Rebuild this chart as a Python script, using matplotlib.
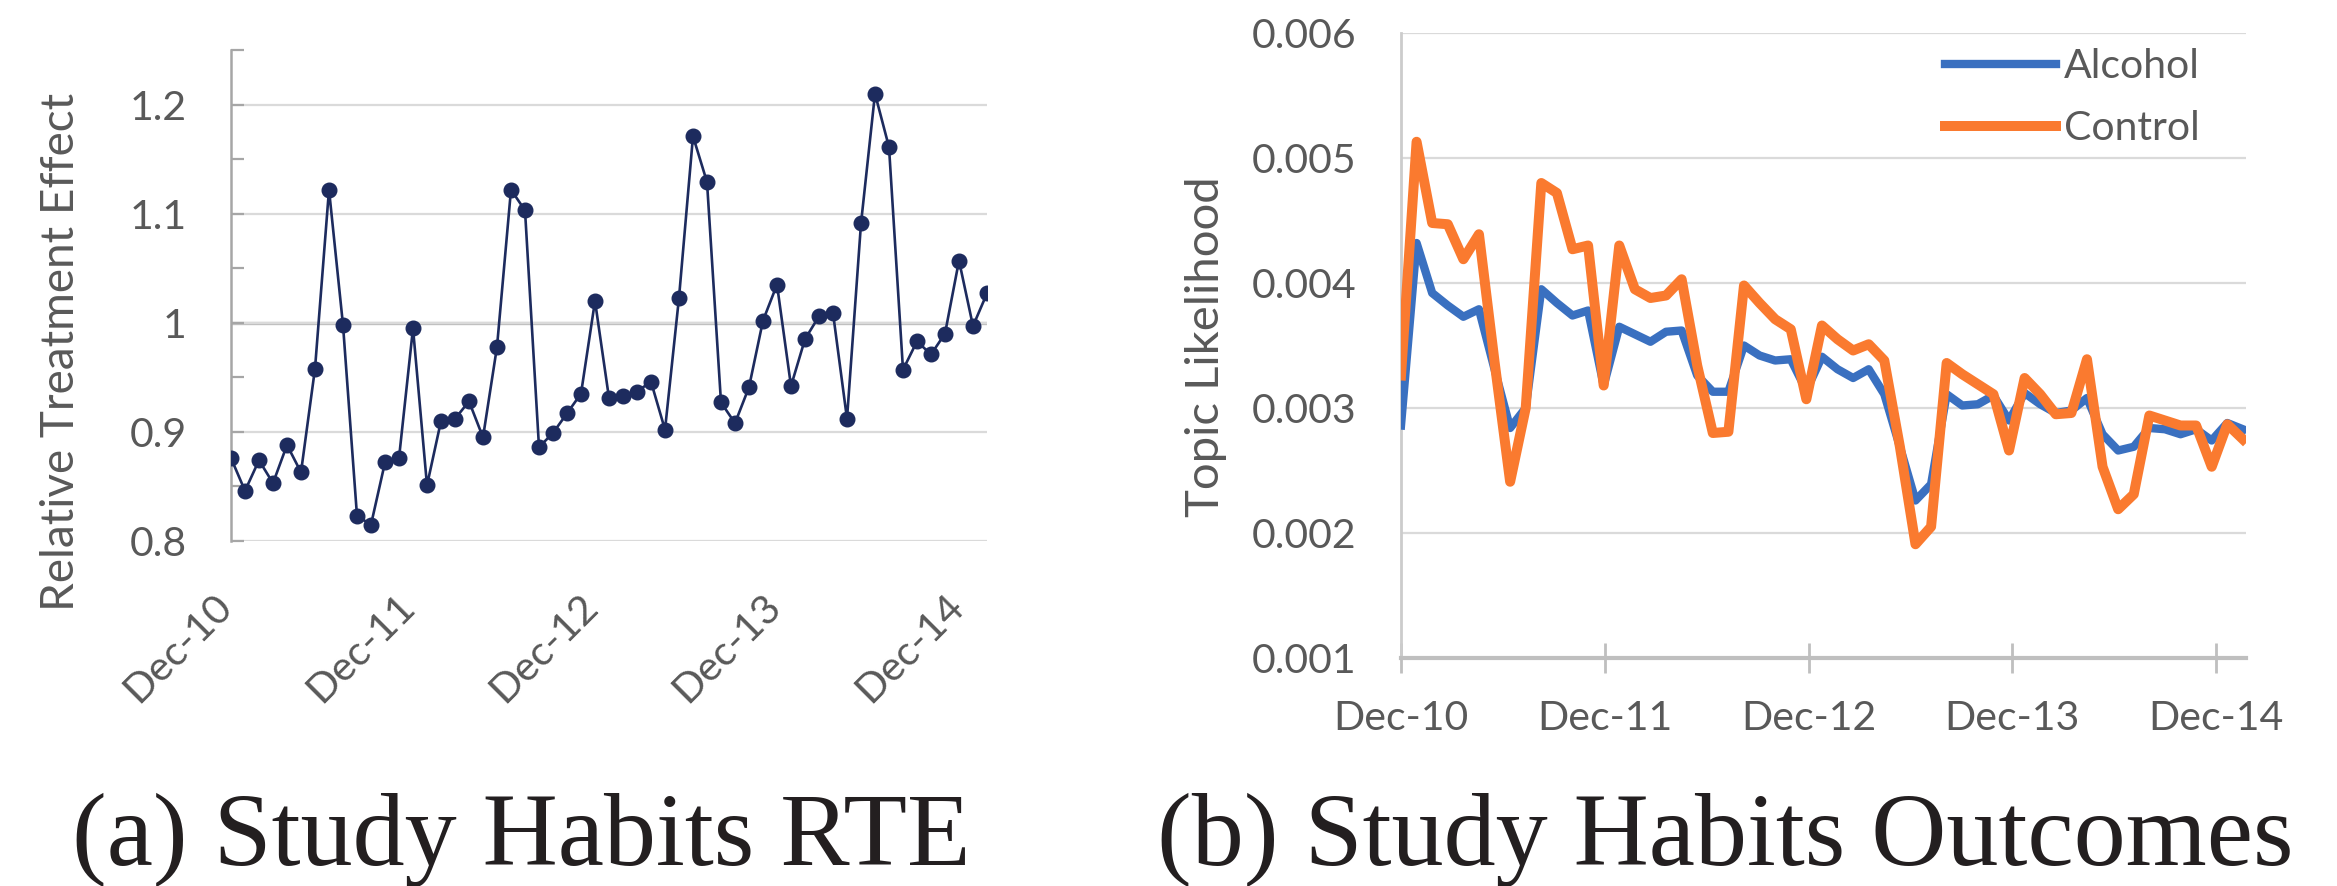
import numpy as np
import matplotlib
matplotlib.use('Agg')
import matplotlib.pyplot as plt
from matplotlib.transforms import ScaledTranslation

# ---- data (4-week periods, Dec-10 .. Feb-15) ----
rte = [0.876, 0.846, 0.874, 0.853, 0.888, 0.863, 0.958, 1.122, 0.998, 0.823,
       0.815, 0.872, 0.876, 0.995, 0.851, 0.910, 0.912, 0.928, 0.895, 0.978,
       1.122, 1.103, 0.886, 0.899, 0.917, 0.935, 1.020, 0.931, 0.933, 0.937,
       0.946, 0.902, 1.023, 1.171, 1.129, 0.927, 0.908, 0.941, 1.002, 1.035,
       0.942, 0.985, 1.006, 1.009, 0.912, 1.091, 1.210, 1.161, 0.957, 0.983,
       0.971, 0.990, 1.057, 0.997, 1.027]

alcohol = [0.00286, 0.00432, 0.00392, 0.00382, 0.00373, 0.00379, 0.00331, 0.00284, 0.00300, 0.00395,
           0.00384, 0.00374, 0.00378, 0.00318, 0.00365, 0.00359, 0.00353, 0.00361, 0.00362, 0.00326,
           0.00313, 0.00313, 0.00350, 0.00342, 0.00338, 0.00339, 0.00314, 0.00341, 0.00331, 0.00324,
           0.00331, 0.00311, 0.00269, 0.00226, 0.00239, 0.00311, 0.00302, 0.00303, 0.00310, 0.00290,
           0.00312, 0.00303, 0.00296, 0.00298, 0.00308, 0.00279, 0.00266, 0.00269, 0.00284, 0.00283,
           0.00279, 0.00283, 0.00274, 0.00288, 0.00283]

control = [0.00326, 0.00513, 0.00448, 0.00447, 0.00419, 0.00439, 0.00337, 0.00241, 0.00300, 0.00480,
           0.00472, 0.00427, 0.00430, 0.00318, 0.00430, 0.00395, 0.00388, 0.00390, 0.00403, 0.00334,
           0.00280, 0.00281, 0.00398, 0.00384, 0.00371, 0.00363, 0.00307, 0.00366, 0.00355, 0.00346,
           0.00351, 0.00338, 0.00269, 0.00191, 0.00205, 0.00336, 0.00327, 0.00319, 0.00311, 0.00266,
           0.00324, 0.00311, 0.00295, 0.00296, 0.00339, 0.00253, 0.00219, 0.00231, 0.00294, 0.00290,
           0.00286, 0.00286, 0.00253, 0.00287, 0.00275]

year_labels = ['Dec-10', 'Dec-11', 'Dec-12', 'Dec-13', 'Dec-14']
periods_per_year = 13.07

rte_major = [0.8, 0.9, 1.0, 1.1, 1.2]
rte_major_labels = ['0.8', '0.9', '1', '1.1', '1.2']
rte_minor = [0.85, 0.95, 1.05, 1.15, 1.25]
topic_ticks = [0.001, 0.002, 0.003, 0.004, 0.005, 0.006]
topic_labels = ['0.001', '0.002', '0.003', '0.004', '0.005', '0.006']

plt.rcParams['font.family'] = ['Lato', 'DejaVu Sans']

W, H = 2337, 886
fig = plt.figure(figsize=(W / 100, H / 100), dpi=100)

gray_txt = '#595959'
grid_c = '#dadada'
tick_fs = 29.5

x = np.arange(len(rte))
year_pos = [periods_per_year * k for k in range(len(year_labels))]

# ---- (a) RTE ----
ax1 = fig.add_axes([231 / W, 1 - 541 / H, 756 / W, (541 - 50) / H])
ax1.plot(x, rte, color='#1d2b5e', lw=1.9, marker='o', ms=10.5, zorder=3)
ax1.set_xlim(0, len(rte) - 1)
ax1.set_ylim(0.8, 1.25)
ax1.set_yticks(rte_major)
ax1.set_yticklabels(rte_major_labels)
ax1.set_yticks(rte_minor, minor=True)
ax1.grid(axis='y', which='major', color=grid_c, lw=1.6, zorder=0)
ax1.axhline(1.0, color='#bdbdbd', lw=2.4, zorder=1)
for s in ['top', 'right', 'bottom']:
    ax1.spines[s].set_visible(False)
ax1.spines['left'].set_color('#a6a6a6')
ax1.spines['left'].set_linewidth(1.8)
ax1.tick_params(axis='y', which='both', direction='in', length=9.5, width=1.6,
                color='#a6a6a6', labelsize=tick_fs, labelcolor=gray_txt, pad=32)
ax1.set_xticks(year_pos)
ax1.set_xticklabels(year_labels, rotation=45, ha='right')
ax1.tick_params(axis='x', length=0, labelsize=tick_fs, labelcolor=gray_txt, pad=33)
off = ScaledTranslation(8 / 100, 0, fig.dpi_scale_trans)
for lab in ax1.get_xticklabels():
    lab.set_transform(lab.get_transform() + off)
fig.text(61 / W, 1 - 352 / H, 'Relative Treatment Effect', rotation=90,
         ha='center', va='center', fontsize=33, color=gray_txt)

# ---- (b) outcomes ----
ax2 = fig.add_axes([1401 / W, 1 - 658 / H, 845 / W, (658 - 33) / H])
ax2.plot(x, alcohol, color='#3a70c0', lw=6.0, label='Alcohol', zorder=3,
         solid_joinstyle='round')
ax2.plot(x, control, color='#fa7a2f', lw=7.2, label='Control', zorder=4,
         solid_joinstyle='round')
ax2.set_xlim(0, 54.2)
ax2.set_ylim(0.001, 0.006)
ax2.set_yticks(topic_ticks)
ax2.set_yticklabels(topic_labels)
ax2.grid(axis='y', color=grid_c, lw=1.6, zorder=0)
ax2.set_axisbelow(True)
for s in ['top', 'right']:
    ax2.spines[s].set_visible(False)
ax2.spines['left'].set_color('#cccccc')
ax2.spines['left'].set_linewidth(2.0)
ax2.spines['bottom'].set_color('#bfbfbf')
ax2.spines['bottom'].set_linewidth(3.0)
ax2.tick_params(axis='y', length=0, labelsize=tick_fs, labelcolor=gray_txt, pad=32)
ax2.set_xticks(year_pos)
ax2.set_xticklabels(year_labels)
ax2.tick_params(axis='x', direction='inout', length=21, width=2.0, color='#bfbfbf',
                labelsize=tick_fs, labelcolor=gray_txt, pad=20)
fig.text(1206 / W, 1 - 347 / H, 'Topic Likelihood', rotation=90,
         ha='center', va='center', fontsize=34, color=gray_txt)
ax2.legend(loc='upper left', bbox_to_anchor=(1945 / W, 1 - 48 / H),
           bbox_transform=fig.transFigure, frameon=False, fontsize=tick_fs,
           handlelength=2.7, handletextpad=0.2, labelspacing=0.62,
           borderpad=0, borderaxespad=0, labelcolor=gray_txt)

# ---- captions ----
fig.text(521 / W, 1 - 865 / H, '(a) Study Habits RTE', ha='center', va='baseline',
         fontsize=75, family='Liberation Serif', color='#231f20')
fig.text(1725 / W, 1 - 865 / H, '(b) Study Habits Outcomes', ha='center', va='baseline',
         fontsize=75, family='Liberation Serif', color='#231f20')

fig.savefig('out.png', dpi=100)
